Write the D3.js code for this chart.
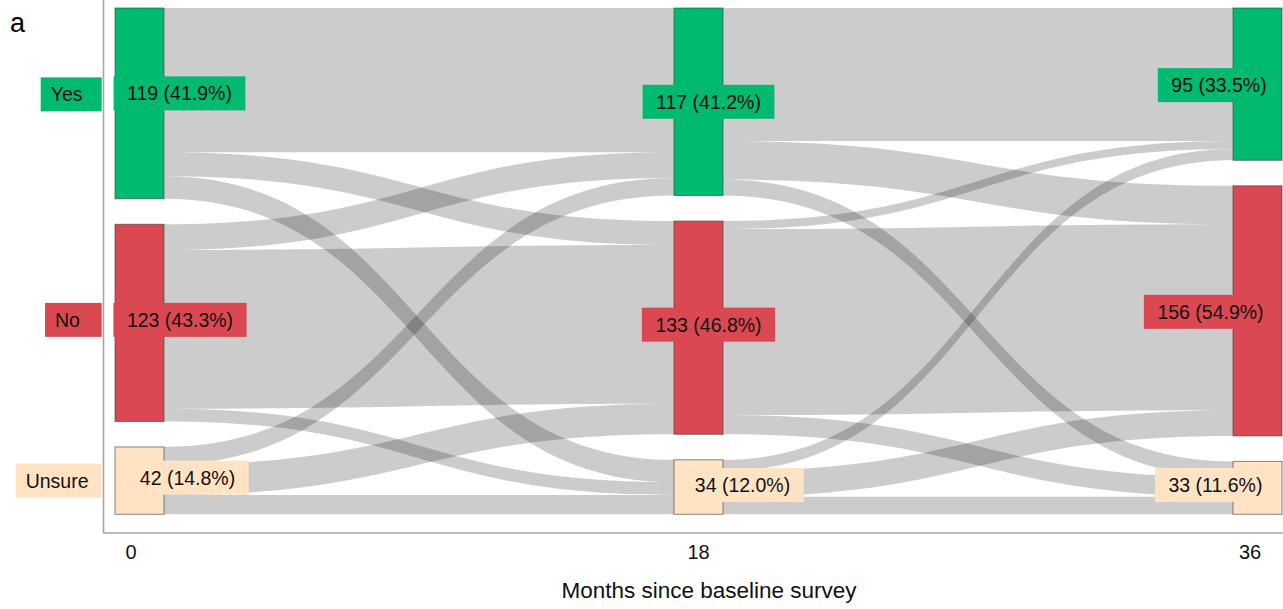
<!DOCTYPE html>
<html>
<head>
<meta charset="utf-8">
<script src="https://cdn.jsdelivr.net/npm/d3@7"></script>
<style>
  html, body { margin: 0; padding: 0; background: #fff; }
  svg { display: block; font-family: "Liberation Sans", Arial, Helvetica, sans-serif; }
</style>
</head>
<body>
<svg id="chart" width="1283" height="609"></svg>
<script>
// Survey waves (months since baseline) and response categories
const months = [0, 18, 36];
const categories = ["Yes", "No", "Unsure"];

// Respondents in each category at each wave
const countsM0 = [119, 123, 42];
const countsM18 = [117, 133, 34];
const countsM36 = [95, 156, 33];

// Transitions: rows = category at earlier wave, columns = category at later wave
const flowsM0toM18 = [
  [90, 15, 14],
  [16, 99, 8],
  [11, 19, 12]
];
const flowsM18toM36 = [
  [83, 24, 10],
  [5, 116, 12],
  [7, 16, 11]
];

const tickLabels = ["0", "18", "36"];
const axisTitle = "Months since baseline survey";
const panelTag = "a";

const colors = { Yes: "#00BA6F", No: "#DA4852", Unsure: "#FFE3C3" };

// ---- layout ----
const W = 1283, H = 609;
const plotTop = 8, plotBottom = 514.3, gap = 25.5;
const nodeW = 49;
const axisX = 103.5, axisY = 533;

const counts = [countsM0, countsM18, countsM36];
const flows = [flowsM0toM18, flowsM18toM36];
const total = d3.sum(countsM0);

const x = d3.scaleLinear().domain([0, 36]).range([115, 1233]);
const h = d3.scaleLinear().domain([0, total])
  .range([0, (plotBottom - plotTop) - gap * (categories.length - 1)]);

// label nudges relative to node centres (column, category)
const labelNudge = [
  [[40, -10], [40.5, -3], [48, -3]],
  [[10, 0], [10, -3], [44, -2]],
  [[-38.5, 1], [-47, 1], [-42, -3]]
];
// left key boxes: left edge and vertical nudge from the first column's node centre
const keyBox = { Yes: [40.7, -9], No: [45, -3], Unsure: [15.7, 0] };
const keyRight = 101.7;
// tick label nudges from node centres
const tickNudge = [-8.5, 0, -7.5];

// node geometry
const nodes = [];
counts.forEach((col, ci) => {
  let y = plotTop;
  col.forEach((v, k) => {
    const n = { col: ci, cat: categories[k], k, value: v,
      x0: x(months[ci]), x1: x(months[ci]) + nodeW, y0: y, y1: y + h(v) };
    nodes.push(n);
    y = n.y1 + gap;
  });
});
const nodeAt = (ci, k) => nodes.find(n => n.col === ci && n.k === k);

// link geometry: outgoing stacked by target order, incoming by source order
const links = [];
flows.forEach((mat, ci) => {
  const outOff = categories.map((_, s) => nodeAt(ci, s).y0);
  const inOff = categories.map((_, t) => nodeAt(ci + 1, t).y0);
  const tmp = [];
  mat.forEach((row, s) => row.forEach((v, t) => {
    const l = { ci, s, t, value: v, sy0: outOff[s], sy1: outOff[s] + h(v) };
    outOff[s] = l.sy1;
    tmp.push(l);
  }));
  categories.forEach((_, t) => {
    categories.forEach((_, s) => {
      const l = tmp.find(d => d.s === s && d.t === t);
      l.ty0 = inOff[t]; l.ty1 = inOff[t] + h(l.value); inOff[t] = l.ty1;
    });
  });
  tmp.forEach(l => {
    l.xa = nodeAt(ci, l.s).x1;
    l.xb = nodeAt(ci + 1, l.t).x0;
    links.push(l);
  });
});

function ribbon(l) {
  const xm = (l.xa + l.xb) / 2;
  const p = d3.path();
  p.moveTo(l.xa, l.sy0);
  p.bezierCurveTo(xm, l.sy0, xm, l.ty0, l.xb, l.ty0);
  p.lineTo(l.xb, l.ty1);
  p.bezierCurveTo(xm, l.ty1, xm, l.sy1, l.xa, l.sy1);
  p.closePath();
  return p.toString();
}

const svg = d3.select("#chart");

// flows
svg.append("g").selectAll("path").data(links).join("path")
  .attr("d", ribbon)
  .attr("fill", "#000")
  .attr("fill-opacity", 0.2);

// axis lines
svg.append("line").attr("x1", axisX).attr("x2", axisX).attr("y1", 0).attr("y2", axisY)
  .attr("stroke", "#a6a6a6").attr("stroke-width", 1.6);
svg.append("line").attr("x1", axisX).attr("x2", W).attr("y1", axisY).attr("y2", axisY)
  .attr("stroke", "#a6a6a6").attr("stroke-width", 1.6);

// nodes
svg.append("g").selectAll("rect").data(nodes).join("rect")
  .attr("x", d => d.x0).attr("y", d => d.y0)
  .attr("width", nodeW).attr("height", d => d.y1 - d.y0)
  .attr("fill", d => colors[d.cat])
  .attr("stroke", "#3a3a3a").attr("stroke-opacity", 0.6).attr("stroke-width", 1);

// value labels
const pct = d3.format(".1f");
const fs = 19.5, boxH = 34, padX = 13.5;
const lab = svg.append("g");
nodes.forEach(n => {
  const [dx, dy] = labelNudge[n.col][n.k];
  const cx = (n.x0 + n.x1) / 2 + dx;
  const cy = (n.y0 + n.y1) / 2 + dy;
  const g = lab.append("g");
  const t = g.append("text")
    .attr("x", cx).attr("y", cy)
    .attr("text-anchor", "middle").attr("dominant-baseline", "central")
    .attr("font-size", fs).attr("fill", "#111")
    .text(`${n.value} (${pct(n.value / total * 100)}%)`);
  const bw = t.node().getComputedTextLength() + 2 * padX;
  g.insert("rect", "text")
    .attr("x", cx - bw / 2).attr("y", cy - boxH / 2)
    .attr("width", bw).attr("height", boxH)
    .attr("fill", colors[n.cat]);
});

// category key at left
categories.forEach((c, k) => {
  const [bx, dy] = keyBox[c];
  const n = nodeAt(0, k);
  const cy = (n.y0 + n.y1) / 2 + dy;
  const g = svg.append("g");
  g.append("rect").attr("x", bx).attr("y", cy - boxH / 2)
    .attr("width", keyRight - bx).attr("height", boxH).attr("fill", colors[c]);
  g.append("text").attr("x", bx + 10).attr("y", cy)
    .attr("dominant-baseline", "central").attr("font-size", fs).attr("fill", "#111")
    .text(c);
});

// tick labels
svg.append("g").selectAll("text").data(months).join("text")
  .attr("x", (d, i) => x(d) + nodeW / 2 + tickNudge[i])
  .attr("y", 559)
  .attr("text-anchor", "middle").attr("font-size", 20).attr("fill", "#111")
  .text((d, i) => tickLabels[i]);

// axis title
svg.append("text").attr("x", 709).attr("y", 598)
  .attr("text-anchor", "middle").attr("font-size", 22.5).attr("fill", "#111")
  .text(axisTitle);

// panel tag
svg.append("text").attr("x", 10).attr("y", 32)
  .attr("font-size", 27).attr("fill", "#000").text(panelTag);
</script>
</body>
</html>
